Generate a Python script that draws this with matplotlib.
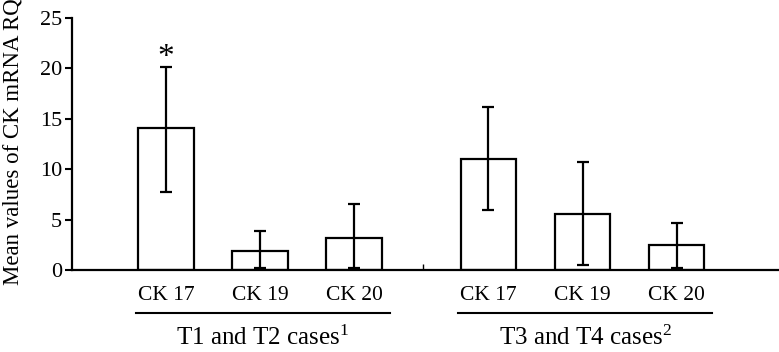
import numpy as np
import matplotlib.pyplot as plt

plt.rcParams['font.family'] = ['Liberation Serif', 'DejaVu Serif']
plt.rcParams['mathtext.fontset'] = 'custom'
plt.rcParams['mathtext.rm'] = 'Liberation Serif'
plt.rcParams['mathtext.it'] = 'Liberation Serif'

# bar data
labels = ["CK 17", "CK 19", "CK 20", "CK 17", "CK 19", "CK 20"]
means = [14.1, 1.85, 3.2, 11.0, 5.6, 2.45]
err_low = [6.4, 1.7, 3.05, 5.0, 5.15, 2.3]
err_high = [6.0, 2.0, 3.3, 5.2, 5.1, 2.2]
groups = ["T1 and T2 cases$^{1}$", "T3 and T4 cases$^{2}$"]

# x positions (category units)
xpos = [1.0, 2.0, 3.0, 4.43, 5.43, 6.43]

fig = plt.figure(figsize=(7.79, 3.52), dpi=100)
ax = fig.add_axes([72/779, 82/352, 707/779, 252/352])

ax.bar(xpos, means, width=0.59, color='white', edgecolor='black', linewidth=1.6, zorder=2)
ax.errorbar(xpos, means, yerr=[err_low, err_high], fmt='none', ecolor='black',
            elinewidth=1.6, capsize=4, capthick=1.6, zorder=3)

# significance mark
ax.text(xpos[0], means[0] + err_high[0] + 1.0, "*", ha='center', va='center', fontsize=24)

ax.set_xlim(0, 7.52)
ax.set_ylim(0, 25)
ax.set_yticks([0, 5, 10, 15, 20, 25])
ax.tick_params(axis='y', labelsize=16, direction='out', length=5, width=1.5, pad=2)
ax.set_xticks([3.73])
ax.set_xticklabels([""])
ax.tick_params(axis='x', direction='in', length=4, width=1.0)

ax.spines['top'].set_visible(False)
ax.spines['right'].set_visible(False)
ax.spines['left'].set_linewidth(1.6)
ax.spines['bottom'].set_linewidth(1.6)

fig.text(13/779, 1 - 142/352, "Mean values of CK mRNA RQ", rotation=90,
         ha='center', va='center', fontsize=16.5)

# category labels and group brackets below the axis
for x, lab in zip(xpos, labels):
    ax.text(x, -2.5, lab, ha='center', va='center', fontsize=15.5, clip_on=False)

for i, g in enumerate(groups):
    x0 = xpos[3*i] - 0.32
    x1 = xpos[3*i + 2] + 0.38
    ax.plot([x0, x1], [-4.25, -4.25], color='black', linewidth=1.5, clip_on=False)
    ax.text((x0 + x1) / 2, -6.7, g, ha='center', va='center', fontsize=18, clip_on=False)

fig.savefig("out.png", dpi=100)
